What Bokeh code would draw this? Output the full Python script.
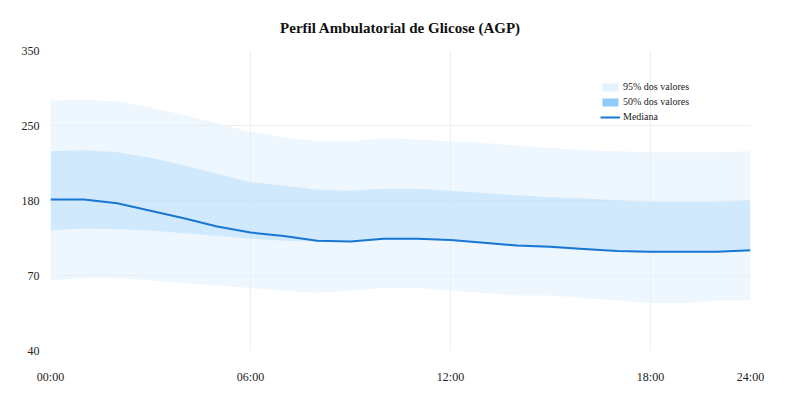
import numpy as np
from bokeh.plotting import figure
from bokeh.models import Range1d, FixedTicker, Legend, LegendItem, ColumnDataSource
from bokeh.embed import file_html
from bokeh.resources import INLINE

# ---- data ----
hours = [0, 1, 2, 3, 4, 5, 6, 7, 8, 9, 10, 11, 12, 13, 14, 15, 16, 17, 18, 19, 20, 21]
p95_upper = [283, 284, 282, 274, 264, 253, 244, 239, 235, 235, 238, 237, 235, 234, 231, 229, 227, 226, 225, 225, 225, 226]
p50_upper = [226, 227, 225, 220, 213, 205, 197, 194, 190, 189, 191, 191, 189, 187, 185, 183, 182, 180, 178, 178, 178, 180]
median = [181, 181, 176, 165, 154, 142, 133, 128, 121, 120, 124, 124, 122, 118, 114, 112, 109, 106, 105, 105, 105, 107]
p50_lower = [136, 139, 138, 136, 132, 128, 124, 121, 120, 119, 123, 123, 121, 117, 112, 110, 107, 105, 103, 103, 104, 106]
p95_lower = [68, 69, 69, 68, 67, 66, 65, 64, 63, 64, 65, 65, 64, 63, 62, 62, 61, 60, 59, 59, 60, 60]

y_tick_values = [40, 70, 180, 250, 350]
x_tick_hours = [0, 6, 12, 18, 21]
x_tick_labels = ["00:00", "06:00", "12:00", "18:00", "24:00"]

# The chart's y axis places its ticks evenly; map glucose values onto that scale
tick_pos = list(range(len(y_tick_values)))
def to_axis(vals):
    return np.interp(np.asarray(vals, dtype=float), y_tick_values, tick_pos)

src = ColumnDataSource(dict(
    x=hours,
    u95=to_axis(p95_upper), l95=to_axis(p95_lower),
    u50=to_axis(p50_upper), l50=to_axis(p50_lower),
    med=to_axis(median),
))

FONT = "Liberation Serif"

p = figure(width=800, height=400, output_backend="svg", toolbar_location=None,
           x_range=Range1d(hours[0], hours[-1]), y_range=Range1d(tick_pos[0], tick_pos[-1]),
           min_border_left=50, min_border_right=50, min_border_top=50, min_border_bottom=50,
           title="Perfil Ambulatorial de Glicose (AGP)")
p.outline_line_color = None
p.background_fill_color = "white"
p.border_fill_color = "white"

p.title.align = "center"
p.title.text_font = FONT
p.title.text_font_size = "15px"
p.title.text_font_style = "bold"
p.title.text_color = "#111111"
p.title.standoff = 30

r95 = p.varea(x="x", y1="l95", y2="u95", source=src, fill_color="#e3f2fd", fill_alpha=0.6)
r50 = p.varea(x="x", y1="l50", y2="u50", source=src, fill_color="#90caf9", fill_alpha=0.3)
rmed = p.line(x="x", y="med", source=src, line_color="#1976d2", line_width=2)

# zero-height areas that only serve as solid legend swatches
lg95 = p.varea(x="x", y1="med", y2="med", source=src, fill_color="#e3f2fd")
lg50 = p.varea(x="x", y1="med", y2="med", source=src, fill_color="#90caf9")

legend = Legend(items=[
    LegendItem(label="95% dos valores", renderers=[lg95]),
    LegendItem(label="50% dos valores", renderers=[lg50]),
    LegendItem(label="Mediana", renderers=[rmed]),
], location=(550, 228))
legend.background_fill_alpha = 0
legend.border_line_color = None
legend.padding = 0
legend.margin = 0
legend.spacing = 4
legend.glyph_width = 20
legend.glyph_height = 10
legend.label_height = 10
legend.label_standoff = 3
legend.label_text_font = FONT
legend.label_text_font_size = "10px"
legend.label_text_color = "#222222"
p.add_layout(legend)

# axes
p.xaxis.ticker = FixedTicker(ticks=x_tick_hours)
p.xaxis.major_label_overrides = {h: l for h, l in zip(x_tick_hours, x_tick_labels)}
p.yaxis.ticker = FixedTicker(ticks=tick_pos)
p.yaxis.major_label_overrides = {i: str(v) for i, v in zip(tick_pos, y_tick_values)}
for ax in (p.xaxis[0], p.yaxis[0]):
    ax.axis_line_color = None
    ax.major_tick_line_color = None
    ax.minor_tick_line_color = None
    ax.major_label_text_font = FONT
    ax.major_label_text_font_size = "12px"
    ax.major_label_text_color = "#222222"
p.xaxis.major_label_standoff = 13
p.yaxis.major_label_standoff = 5

p.xgrid.grid_line_color = "#eeeeee"
p.ygrid.grid_line_color = "#eeeeee"
p.xgrid.grid_line_width = 1
p.ygrid.grid_line_width = 1

open("out.html", "w").write(file_html(p, INLINE))
